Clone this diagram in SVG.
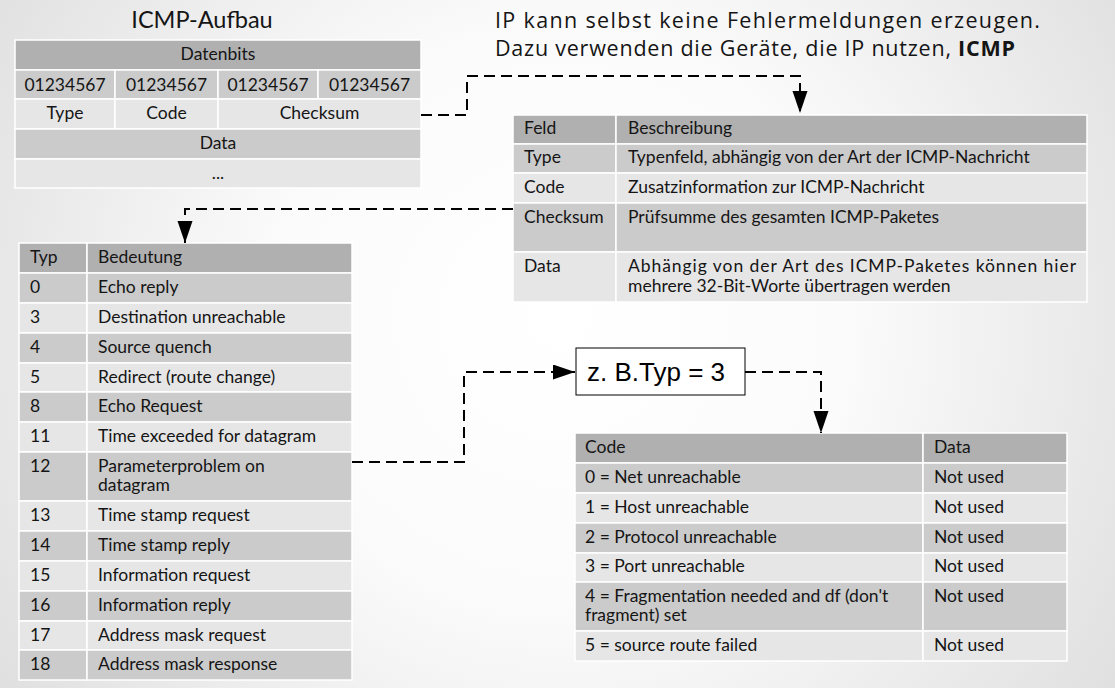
<svg xmlns="http://www.w3.org/2000/svg" width="1115" height="688" viewBox="0 0 1115 688">
<defs>
<radialGradient id="bg" gradientUnits="userSpaceOnUse" cx="560" cy="320" r="720">
<stop offset="0" stop-color="#ffffff"/>
<stop offset="0.4" stop-color="#fbfbfb"/>
<stop offset="1" stop-color="#dcdcdc"/>
</radialGradient>
<marker id="arr" markerUnits="userSpaceOnUse" markerWidth="24" markerHeight="16" refX="22" refY="7.5" orient="auto">
<path d="M0,0 L22,7.5 L0,15 Z" fill="#000"/>
</marker>
<style>
.h{fill:#b0b0b0;stroke:#fff;stroke-width:1.5}
.d{fill:#cbcbcb;stroke:#fff;stroke-width:1.5}
.l{fill:#e6e6e6;stroke:#fff;stroke-width:1.5}
text{font-family:Lato,"Liberation Sans",sans-serif;font-size:17.5px;fill:#151515}
.c{text-anchor:middle}
.big{font-family:"Open Sans","Liberation Sans",sans-serif;font-size:21.5px}
.ttl{font-size:23.5px}
.con{fill:none;stroke:#000;stroke-width:2;stroke-dasharray:11 6}
.box{font-family:"Liberation Sans",Arial,sans-serif;font-size:26px;fill:#000}
</style>
</defs>
<rect width="1115" height="688" fill="url(#bg)"/>

<g id="title">
<text class="ttl c" x="202" y="28">ICMP-Aufbau</text>
</g>
<g id="note">
<text class="big" x="495" y="28" textLength="545" lengthAdjust="spacing">IP kann selbst keine Fehlermeldungen erzeugen.</text>
<text class="big" x="495" y="56" textLength="520" lengthAdjust="spacing">Dazu verwenden die Geräte, die IP nutzen, <tspan font-weight="bold">ICMP</tspan></text>
</g>

<g id="icmp-aufbau">
<rect class="h" x="15" y="40" width="406" height="30"/>
<rect class="d" x="15" y="70" width="100" height="29"/>
<rect class="d" x="115" y="70" width="103" height="29"/>
<rect class="d" x="218" y="70" width="100" height="29"/>
<rect class="d" x="318" y="70" width="103" height="29"/>
<rect class="l" x="15" y="99" width="100" height="30"/>
<rect class="l" x="115" y="99" width="103" height="30"/>
<rect class="l" x="218" y="99" width="203" height="30"/>
<rect class="d" x="15" y="129" width="406" height="30"/>
<rect class="l" x="15" y="159" width="406" height="29"/>
<text class="c" x="218" y="60">Datenbits</text>
<text class="c" x="65" y="91">01234567</text>
<text class="c" x="166.5" y="91">01234567</text>
<text class="c" x="268" y="91">01234567</text>
<text class="c" x="369.5" y="91">01234567</text>
<text class="c" x="65" y="119">Type</text>
<text class="c" x="166.5" y="119">Code</text>
<text class="c" x="319.5" y="119">Checksum</text>
<text class="c" x="218" y="149">Data</text>
<text class="c" x="218" y="179">...</text>
</g>

<g id="feld-tabelle">
<rect class="h" x="513" y="115" width="103" height="29"/>
<rect class="h" x="616" y="115" width="471" height="29"/>
<rect class="d" x="513" y="144" width="103" height="29"/>
<rect class="d" x="616" y="144" width="471" height="29"/>
<rect class="l" x="513" y="173" width="103" height="30"/>
<rect class="l" x="616" y="173" width="471" height="30"/>
<rect class="d" x="513" y="203" width="103" height="49"/>
<rect class="d" x="616" y="203" width="471" height="49"/>
<rect class="l" x="513" y="252" width="103" height="50"/>
<rect class="l" x="616" y="252" width="471" height="50"/>
<text x="524" y="134">Feld</text>
<text x="628" y="134">Beschreibung</text>
<text x="524" y="163">Type</text>
<text x="628" y="163">Typenfeld, abhängig von der Art der ICMP-Nachricht</text>
<text x="524" y="193">Code</text>
<text x="628" y="193">Zusatzinformation zur ICMP-Nachricht</text>
<text x="524" y="223">Checksum</text>
<text x="628" y="223">Prüfsumme des gesamten ICMP-Paketes</text>
<text x="524" y="272">Data</text>
<text x="628" y="272" textLength="448" lengthAdjust="spacing">Abhängig von der Art des ICMP-Paketes können hier</text>
<text x="628" y="292">mehrere 32-Bit-Worte übertragen werden</text>
</g>

<g id="typ-tabelle">
<rect class="h" x="19" y="243" width="68" height="30"/>
<rect class="h" x="87" y="243" width="265" height="30"/>
<rect class="d" x="19" y="273" width="68" height="30"/><rect class="d" x="87" y="273" width="265" height="30"/>
<rect class="l" x="19" y="303" width="68" height="30"/><rect class="l" x="87" y="303" width="265" height="30"/>
<rect class="d" x="19" y="333" width="68" height="30"/><rect class="d" x="87" y="333" width="265" height="30"/>
<rect class="l" x="19" y="363" width="68" height="29"/><rect class="l" x="87" y="363" width="265" height="29"/>
<rect class="d" x="19" y="392" width="68" height="30"/><rect class="d" x="87" y="392" width="265" height="30"/>
<rect class="l" x="19" y="422" width="68" height="30"/><rect class="l" x="87" y="422" width="265" height="30"/>
<rect class="d" x="19" y="452" width="68" height="49"/><rect class="d" x="87" y="452" width="265" height="49"/>
<rect class="l" x="19" y="501" width="68" height="30"/><rect class="l" x="87" y="501" width="265" height="30"/>
<rect class="d" x="19" y="531" width="68" height="30"/><rect class="d" x="87" y="531" width="265" height="30"/>
<rect class="l" x="19" y="561" width="68" height="30"/><rect class="l" x="87" y="561" width="265" height="30"/>
<rect class="d" x="19" y="591" width="68" height="30"/><rect class="d" x="87" y="591" width="265" height="30"/>
<rect class="l" x="19" y="621" width="68" height="29"/><rect class="l" x="87" y="621" width="265" height="29"/>
<rect class="d" x="19" y="650" width="68" height="30"/><rect class="d" x="87" y="650" width="265" height="30"/>
<text x="30" y="263">Typ</text><text x="98" y="263">Bedeutung</text>
<text x="30" y="293">0</text><text x="98" y="293">Echo reply</text>
<text x="30" y="323">3</text><text x="98" y="323">Destination unreachable</text>
<text x="30" y="353">4</text><text x="98" y="353">Source quench</text>
<text x="30" y="383">5</text><text x="98" y="383">Redirect (route change)</text>
<text x="30" y="412">8</text><text x="98" y="412">Echo Request</text>
<text x="30" y="442">11</text><text x="98" y="442">Time exceeded for datagram</text>
<text x="30" y="472">12</text><text x="98" y="472">Parameterproblem on</text><text x="98" y="491">datagram</text>
<text x="30" y="521">13</text><text x="98" y="521">Time stamp request</text>
<text x="30" y="551">14</text><text x="98" y="551">Time stamp reply</text>
<text x="30" y="581">15</text><text x="98" y="581">Information request</text>
<text x="30" y="611">16</text><text x="98" y="611">Information reply</text>
<text x="30" y="641">17</text><text x="98" y="641">Address mask request</text>
<text x="30" y="670">18</text><text x="98" y="670">Address mask response</text>
</g>

<g id="beispiel">
<rect x="576" y="348" width="169" height="47" fill="#fff" stroke="#000" stroke-width="1"/>
<text class="box" x="587" y="381">z. B.Typ = 3</text>
</g>

<g id="code-tabelle">
<rect class="h" x="575" y="433" width="348" height="30"/><rect class="h" x="923" y="433" width="144" height="30"/>
<rect class="d" x="575" y="463" width="348" height="30"/><rect class="d" x="923" y="463" width="144" height="30"/>
<rect class="l" x="575" y="493" width="348" height="30"/><rect class="l" x="923" y="493" width="144" height="30"/>
<rect class="d" x="575" y="523" width="348" height="30"/><rect class="d" x="923" y="523" width="144" height="30"/>
<rect class="l" x="575" y="553" width="348" height="29"/><rect class="l" x="923" y="553" width="144" height="29"/>
<rect class="d" x="575" y="582" width="348" height="49"/><rect class="d" x="923" y="582" width="144" height="49"/>
<rect class="l" x="575" y="631" width="348" height="30"/><rect class="l" x="923" y="631" width="144" height="30"/>
<text x="585" y="453">Code</text><text x="934" y="453">Data</text>
<text x="585" y="483">0 = Net unreachable</text><text x="934" y="483">Not used</text>
<text x="585" y="513">1 = Host unreachable</text><text x="934" y="513">Not used</text>
<text x="585" y="543">2 = Protocol unreachable</text><text x="934" y="543">Not used</text>
<text x="585" y="572">3 = Port unreachable</text><text x="934" y="572">Not used</text>
<text x="585" y="602">4 = Fragmentation needed and df (don't</text><text x="585" y="621">fragment) set</text><text x="934" y="602">Not used</text>
<text x="585" y="651">5 = source route failed</text><text x="934" y="651">Not used</text>
</g>

<g id="connectors">
<path class="con" d="M421,115 H467 V76 H800 V113" marker-end="url(#arr)"/>
<path class="con" d="M513,209 H185 V243" marker-end="url(#arr)"/>
<path class="con" d="M352,462 H464 V372 H575" marker-end="url(#arr)"/>
<path class="con" d="M745,372 H821 V433" marker-end="url(#arr)"/>
</g>
</svg>
